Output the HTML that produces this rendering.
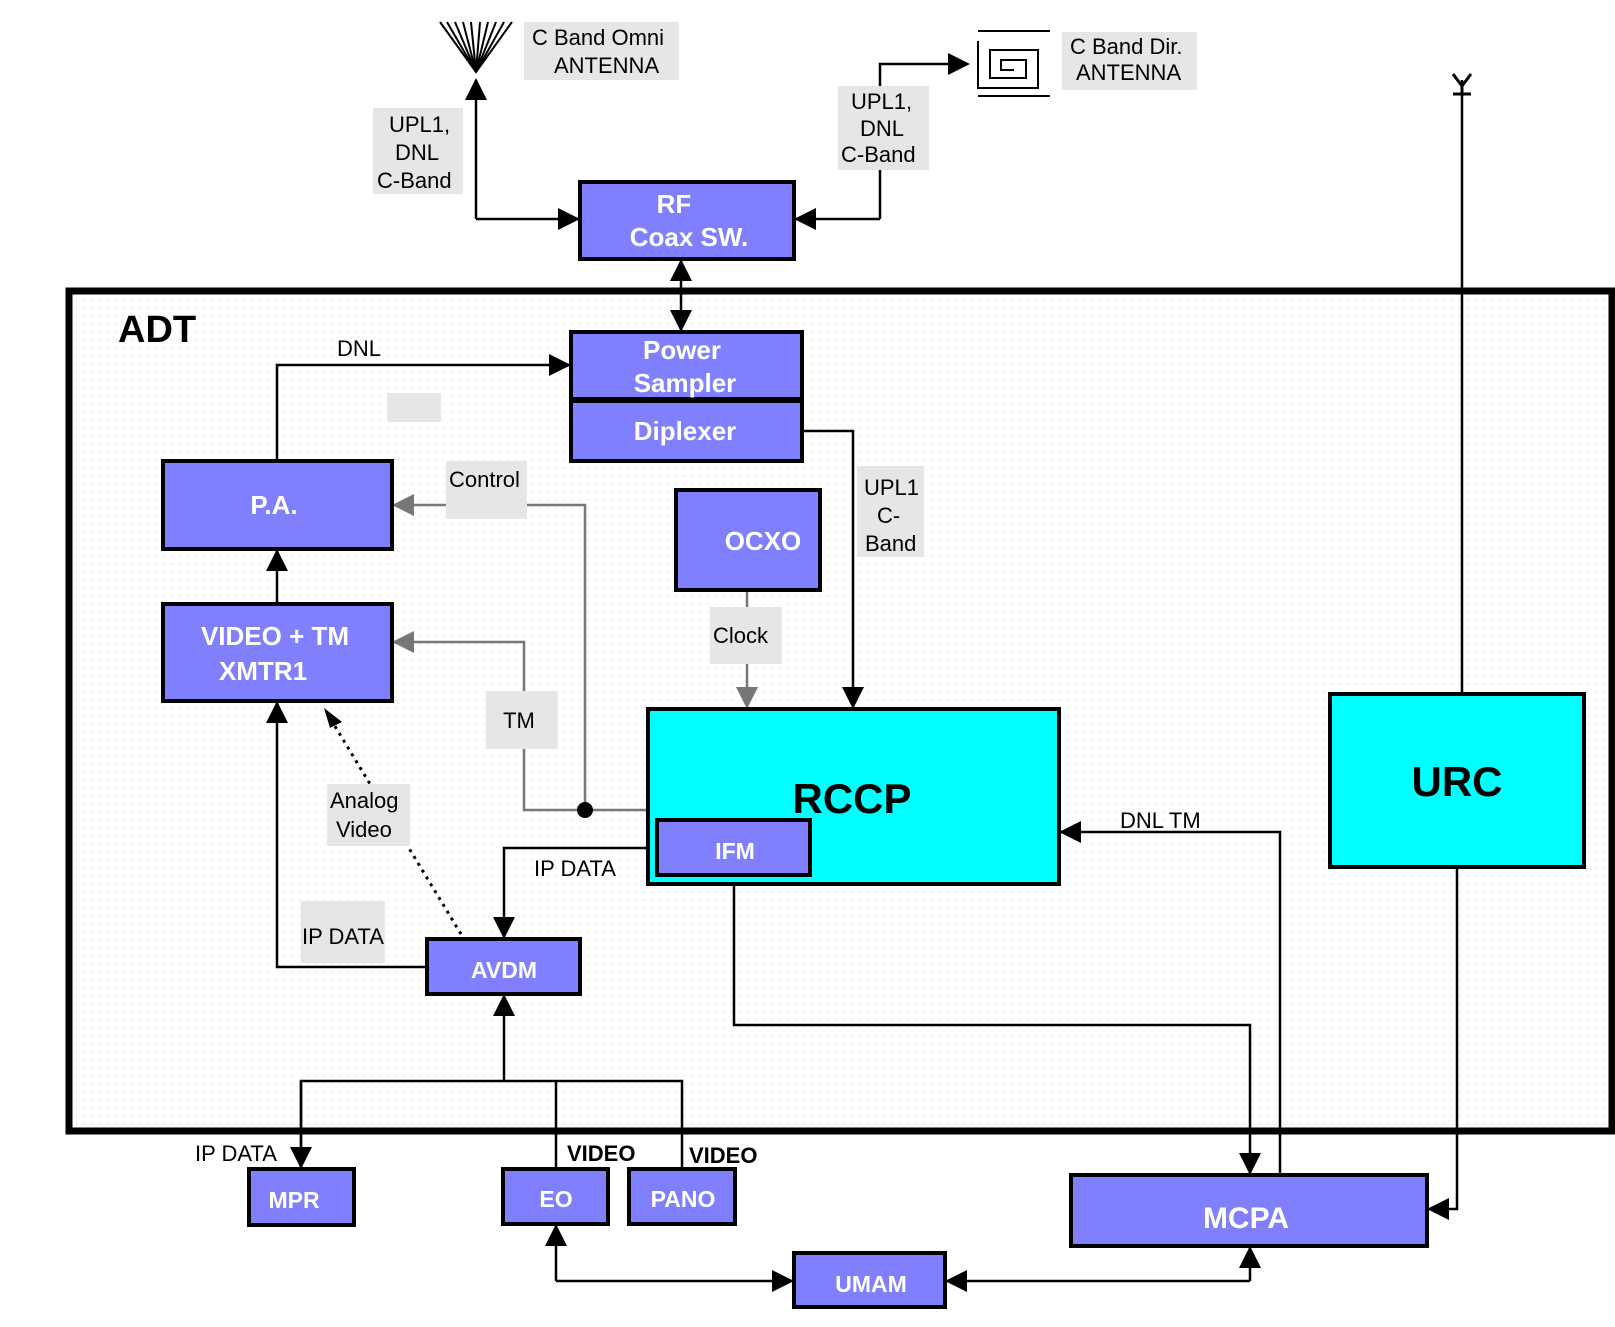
<!DOCTYPE html>
<html><head><meta charset="utf-8"><style>
html,body{margin:0;padding:0;background:#fff;}
svg{display:block;}
text{font-family:"Liberation Sans",sans-serif;}
.l{font-size:22px;fill:#000;}
.b{font-size:26px;font-weight:bold;fill:#fff;text-anchor:middle;}
.bx{fill:#8080ff;stroke:#000;stroke-width:4;}
.w{fill:none;stroke:#000;stroke-width:2.5;}
.g{fill:none;stroke:#777;stroke-width:2.5;}
.bg{fill:#e6e6e6;}
</style></head><body>
<svg width="1615" height="1327" viewBox="0 0 1615 1327" xmlns="http://www.w3.org/2000/svg">
<defs>
<marker id="a" markerWidth="10" markerHeight="10" refX="9" refY="5" orient="auto" markerUnits="userSpaceOnUse" viewBox="0 0 10 10"><path d="M0,0 L10,5 L0,10 z" fill="#000"/></marker>
<marker id="ag" markerWidth="10" markerHeight="10" refX="9" refY="5" orient="auto" markerUnits="userSpaceOnUse" viewBox="0 0 10 10"><path d="M0,0 L10,5 L0,10 z" fill="#777"/></marker>
<marker id="A" markerWidth="22" markerHeight="22" refX="20" refY="11" orient="auto" markerUnits="userSpaceOnUse"><path d="M0,0 L22,11 L0,22 z" fill="#000"/></marker>
<marker id="AG" markerWidth="22" markerHeight="22" refX="20" refY="11" orient="auto" markerUnits="userSpaceOnUse"><path d="M0,0 L22,11 L0,22 z" fill="#777"/></marker>
<pattern id="dots" width="8" height="8" patternUnits="userSpaceOnUse"><rect width="8" height="8" fill="#fff"/><circle cx="4" cy="4" r="0.8" fill="#e4e4e4"/></pattern>
</defs>

<!-- ADT frame -->
<rect x="69" y="291" width="1543" height="840" fill="url(#dots)" stroke="#000" stroke-width="7"/>
<text x="118" y="342" style="font-size:38px;font-weight:bold">ADT</text>

<!-- Omni antenna -->
<g stroke="#000" stroke-width="2">
<path d="M440,22 L476,72 L512,22" fill="none"/>
<path d="M447,22 L476,72 M455,22 L476,72 M463,22 L476,72 M471,22 L476,72 M480,22 L476,72 M488,22 L476,72 M496,22 L476,72 M504,22 L476,72"/>
</g>
<rect class="bg" x="524" y="22" width="155" height="58"/>
<text class="l" x="532" y="45">C Band Omni</text>
<text class="l" x="554" y="73">ANTENNA</text>

<!-- Dir antenna -->
<g stroke="#000" stroke-width="2" fill="none">
<path d="M978,31 H1050 M978,96 H1050"/>
<path d="M978,41 V88 H1038 V50 H990 V78 H1026 V60 H1001 V70 H1014"/>
</g>
<rect class="bg" x="1062" y="32" width="135" height="58"/>
<text class="l" x="1070" y="54">C Band Dir.</text>
<text class="l" x="1076" y="80">ANTENNA</text>

<!-- URC antenna -->
<g stroke="#000" stroke-width="3" fill="none">
<path d="M1453,74 L1462,86 L1471,74 M1462,86 V96 M1453,94 H1471"/>
</g>
<path class="w" d="M1462,80 V694"/>

<!-- RF coax connections -->
<path class="w" d="M476,219 V80" marker-end="url(#A)"/>
<path class="w" d="M476,219 H578" marker-end="url(#A)"/>
<path class="w" d="M880,219 H796" marker-end="url(#A)"/>
<path class="w" d="M880,219 V64 H968" marker-end="url(#A)"/>
<rect class="bg" x="373" y="108" width="90" height="86"/>
<text class="l" x="389" y="132">UPL1,</text>
<text class="l" x="395" y="160">DNL</text>
<text class="l" x="377" y="188">C-Band</text>
<rect class="bg" x="838" y="86" width="91" height="84"/>
<text class="l" x="851" y="109">UPL1,</text>
<text class="l" x="860" y="136">DNL</text>
<text class="l" x="841" y="162">C-Band</text>

<!-- coax to power sampler -->
<path class="w" d="M681,295 V261" marker-end="url(#A)"/>
<path class="w" d="M681,295 V330" marker-end="url(#A)"/>

<!-- DNL -->
<path class="w" d="M277,461 V365 H569" marker-end="url(#A)"/>
<text class="l" x="337" y="356">DNL</text>
<rect class="bg" x="387" y="393" width="54" height="29"/>

<!-- Diplexer to RCCP -->
<path class="w" d="M802,431 H853 V707" marker-end="url(#A)"/>
<rect class="bg" x="857" y="466" width="67" height="91"/>
<text class="l" x="864" y="495">UPL1</text>
<text class="l" x="877" y="523">C-</text>
<text class="l" x="865" y="551">Band</text>

<!-- Control / TM grey -->
<path class="g" d="M585,810 V505 H394" marker-end="url(#AG)"/>
<rect class="bg" x="446" y="461" width="81" height="58"/>
<text class="l" x="449" y="487">Control</text>
<path class="g" d="M585,810 H524 V642 H394" marker-end="url(#AG)"/>
<path class="g" d="M585,810 H648"/>
<circle cx="585" cy="810" r="8" fill="#000"/>
<rect class="bg" x="486" y="691" width="72" height="58"/>
<text class="l" x="503" y="728">TM</text>

<!-- Clock -->
<path class="g" d="M747,590 V707" marker-end="url(#AG)"/>
<rect class="bg" x="710" y="607" width="72" height="57"/>
<text class="l" x="713" y="643">Clock</text>

<!-- PA <- VIDEO -->
<path class="w" d="M277,604 V551" marker-end="url(#A)"/>

<!-- IP DATA IFM->AVDM -->
<path class="w" d="M657,848 H504 V937" marker-end="url(#A)"/>
<text class="l" x="534" y="876">IP DATA</text>

<!-- AVDM -> VIDEO -->
<path class="w" d="M427,967 H277 V703" marker-end="url(#A)"/>
<rect class="bg" x="301" y="901" width="84" height="62"/>
<text class="l" x="302" y="944">IP DATA</text>

<!-- Analog video dotted -->
<path d="M461,934 L330,718" stroke="#000" stroke-width="3" stroke-dasharray="3,5" fill="none"/>
<path d="M324,708 L342,722 L330,728 z" fill="#000"/>
<rect class="bg" x="327" y="784" width="83" height="62"/>
<text class="l" x="330" y="808">Analog</text>
<text class="l" x="336" y="837">Video</text>

<!-- IFM -> MCPA -->
<path class="w" d="M734,875 V1025 H1250 V1173" marker-end="url(#A)"/>
<!-- MCPA -> RCCP DNL TM -->
<path class="w" d="M1280,1175 V832 H1061" marker-end="url(#A)"/>
<text class="l" x="1120" y="828">DNL TM</text>
<!-- URC -> MCPA -->
<path class="w" d="M1457,867 V1209 H1429" marker-end="url(#A)"/>

<!-- bottom bus -->
<path class="w" d="M504,1081 V996" marker-end="url(#A)"/>
<path class="w" d="M301,1167 V1081 H682 V1169"/>
<path class="w" d="M301,1081 V1167" marker-end="url(#A)"/>
<path class="w" d="M556,1081 V1169"/>
<text class="l" x="195" y="1161">IP DATA</text>
<text class="l" x="567" y="1161" style="font-weight:bold">VIDEO</text>
<text class="l" x="689" y="1163" style="font-weight:bold">VIDEO</text>

<!-- EO <-> UMAM <-> MCPA -->
<path class="w" d="M556,1281 V1226" marker-end="url(#A)"/>
<path class="w" d="M556,1281 H792" marker-end="url(#A)"/>
<path class="w" d="M1250,1281 H947" marker-end="url(#A)"/>
<path class="w" d="M1250,1281 V1248" marker-end="url(#A)"/>

<!-- Boxes -->
<rect class="bx" x="580" y="182" width="214" height="77"/>
<text class="b" x="674" y="213">RF</text>
<text class="b" x="689" y="246">Coax SW.</text>

<rect class="bx" x="571" y="332" width="231" height="67"/>
<text class="b" x="682" y="359">Power</text>
<text class="b" x="685" y="392">Sampler</text>
<rect class="bx" x="571" y="401" width="231" height="60"/>
<text class="b" x="685" y="440">Diplexer</text>

<rect class="bx" x="163" y="461" width="229" height="88"/>
<text class="b" x="274" y="514">P.A.</text>
<rect class="bx" x="163" y="604" width="229" height="97"/>
<text class="b" x="275" y="645">VIDEO + TM</text>
<text class="b" x="263" y="680">XMTR1</text>

<rect class="bx" x="676" y="490" width="144" height="100"/>
<text class="b" x="763" y="550">OCXO</text>

<rect x="648" y="709" width="411" height="175" fill="#00ffff" stroke="#000" stroke-width="4"/>
<text x="852" y="813" style="font-size:42px;font-weight:bold;text-anchor:middle">RCCP</text>
<rect class="bx" x="657" y="820" width="153" height="55"/>
<text class="b" x="735" y="859" style="font-size:23px">IFM</text>

<rect x="1330" y="694" width="254" height="173" fill="#00ffff" stroke="#000" stroke-width="4"/>
<text x="1457" y="796" style="font-size:42px;font-weight:bold;text-anchor:middle">URC</text>

<rect class="bx" x="427" y="939" width="153" height="55"/>
<text class="b" x="504" y="978" style="font-size:23px">AVDM</text>

<rect class="bx" x="249" y="1169" width="105" height="56"/>
<text class="b" x="294" y="1208" style="font-size:23px">MPR</text>
<rect class="bx" x="503" y="1169" width="105" height="55"/>
<text class="b" x="556" y="1207" style="font-size:23px">EO</text>
<rect class="bx" x="629" y="1169" width="106" height="55"/>
<text class="b" x="683" y="1207" style="font-size:23px">PANO</text>
<rect class="bx" x="1071" y="1175" width="356" height="71"/>
<text class="b" x="1246" y="1228" style="font-size:30px">MCPA</text>
<rect class="bx" x="794" y="1253" width="151" height="54"/>
<text class="b" x="871" y="1292" style="font-size:23px">UMAM</text>
</svg>
</body></html>
